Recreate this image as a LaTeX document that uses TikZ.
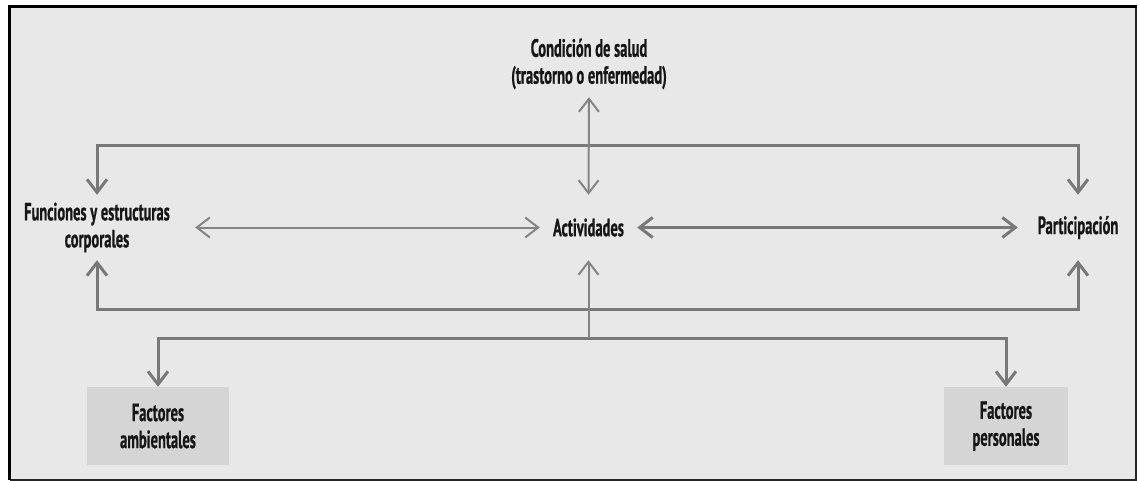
\documentclass[tikz,border=0pt]{standalone}
\usepackage{fontspec}
\setmainfont[FakeStretch=0.58,BoldFeatures={FakeBold=0.6}]{PT Sans}
\usetikzlibrary{arrows.meta}
\definecolor{bgc}{RGB}{232,232,232}
\definecolor{boxc}{RGB}{213,213,213}
\definecolor{linec}{RGB}{120,120,120}
\definecolor{thinc}{RGB}{132,132,132}
\definecolor{txtc}{RGB}{22,22,22}
\tikzset{
  lbl/.style={font=\bfseries\fontsize{25}{27}\selectfont, text=txtc, align=center, inner sep=0pt},
  fbox/.style={lbl, fill=boxc, minimum width=142pt, minimum height=78pt},
  thickc/.style={draw=linec, line width=3pt},
  thinc/.style={draw=thinc, line width=2pt},
}
\begin{document}
\begin{tikzpicture}[x=1pt,y=-1pt]
\useasboundingbox (0,0) rectangle (1140,481);
\fill[white] (0,0) rectangle (1140,481);
\fill[bgc] (9.5,6.5) rectangle (1136,480);
\draw[black!85, line width=1.8pt] (1136,6.5) -- (1136,480) -- (9.5,480);
\draw[black, line width=3.5pt] (9.5,480) -- (9.5,6.5) -- (1137,6.5);

\node[lbl, minimum height=66pt] (cond) at (589,64) {Condición de salud\\(trastorno o enfermedad)};
\node[lbl, minimum width=97pt, minimum height=65pt] (act) at (588.5,227.5) {Actividades};
\node[lbl, minimum width=196pt, minimum height=65pt] (fun) at (97,227.5) {Funciones y estructuras\\corporales};
\node[lbl, minimum width=120pt, minimum height=65pt] (par) at (1078,227.5) {Participación};
\node[fbox] (fa) at (158,426) {Factores\\ambientales};
\node[fbox, minimum width=124pt] (fp) at (1006,426) {Factores\\personales};

\coordinate (top) at (0,146);
\coordinate (mid) at (0,309);
\coordinate (low) at (0,338);

% top bracket
\draw[thickc, {Straight Barb[length=13pt,width=20pt]}-{Straight Barb[length=13pt,width=20pt]}]
  (fun.north) -- (fun.north |- top) -- (par.north |- top) -- (par.north);
% middle bracket
\draw[thickc, {Straight Barb[length=13pt,width=20pt]}-{Straight Barb[length=13pt,width=20pt]}]
  (fun.south) -- (fun.south |- mid) -- (par.south |- mid) -- (par.south);
% lower bracket
\draw[thickc, {Straight Barb[length=13pt,width=20pt]}-{Straight Barb[length=13pt,width=20pt]}]
  (fa.north) -- (fa.north |- low) -- (fp.north |- low) -- (fp.north);
% condition <-> activities
\draw[thinc, {Straight Barb[length=13pt,width=20pt]}-{Straight Barb[length=13pt,width=20pt]}] (cond.south) -- (act.north);
% activities up from lower bracket
\draw[thinc, -{Straight Barb[length=13pt,width=20pt]}] (act.south |- low) -- (act.south);
% horizontal
\draw[thinc, {Straight Barb[length=13pt,width=20pt]}-{Straight Barb[length=13pt,width=20pt]}] (fun.east) -- (act.west);
\draw[thickc, {Straight Barb[length=13pt,width=20pt]}-{Straight Barb[length=13pt,width=20pt]}] (act.east) -- (par.west);
\end{tikzpicture}
\end{document}
